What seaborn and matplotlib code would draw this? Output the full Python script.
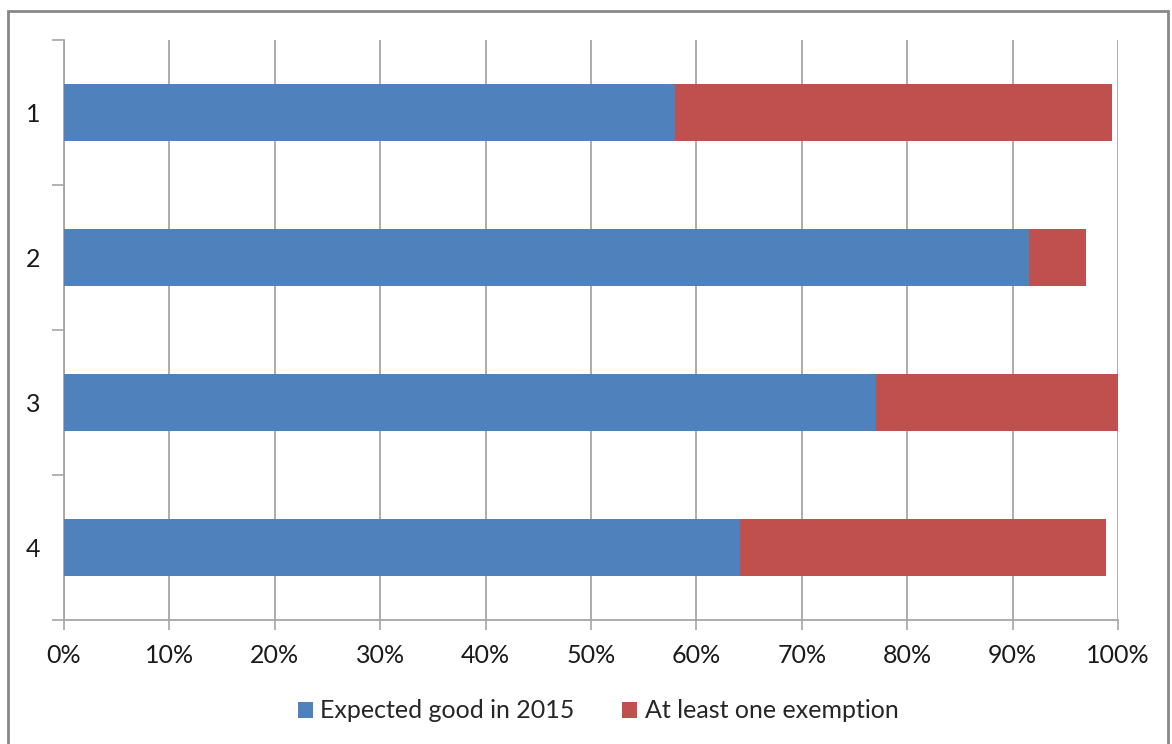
import seaborn as sns
import numpy as np
import pandas as pd
import matplotlib.pyplot as plt
from matplotlib.patches import Rectangle
from matplotlib.ticker import FixedLocator, PercentFormatter

categories = ["1", "2", "3", "4"]
expected_good = [58.0, 91.6, 77.0, 64.1]
exemption = [41.4, 5.4, 23.0, 34.8]

series_names = ["Expected good in 2015", "At least one exemption"]
blue = "#4F81BD"
red = "#C0504D"
grid_c = "#A6A6A6"

sns.set_style("white")
plt.rcParams['font.family'] = ['Lato', 'DejaVu Sans']

df = pd.DataFrame({"cat": categories, "good": expected_good, "exempt": exemption})
df["total"] = df["good"] + df["exempt"]

fig = plt.figure(figsize=(11.72, 7.44), dpi=100)
ax = fig.add_axes([64 / 1172, 1 - 620 / 744, (1118 - 64) / 1172, (620 - 40) / 744])

# stacked bars: total first, then blue on top
sns.barplot(data=df, x="total", y="cat", color=red, width=0.39, ax=ax,
            saturation=1, linewidth=0, zorder=3, label=series_names[1])
sns.barplot(data=df, x="good", y="cat", color=blue, width=0.39, ax=ax,
            saturation=1, linewidth=0, zorder=4, label=series_names[0])

ax.set_xlim(0, 100)
ax.set_ylim(3.5, -0.5)
ax.set_xticks(np.arange(0, 101, 10))
ax.xaxis.set_major_formatter(PercentFormatter(decimals=0))
ax.yaxis.set_major_locator(FixedLocator(np.arange(-0.5, 3.6, 1)))
ax.set_yticklabels([])
ax.yaxis.set_minor_locator(FixedLocator(range(len(categories))))
ax.set_yticklabels(categories, minor=True)
ax.tick_params(axis="y", which="major", length=9, width=1.2, color=grid_c, left=True)
ax.tick_params(axis="y", which="minor", length=0, pad=17, labelsize=18, labelcolor="#1a1a1a")
ax.tick_params(axis="x", length=7, width=1.2, color=grid_c, bottom=True, pad=10,
               labelsize=18, labelcolor="#1a1a1a")
ax.set_xlabel("")
ax.set_ylabel("")

ax.grid(axis="x", color=grid_c, linewidth=1.3, zorder=0)
ax.set_axisbelow(True)
for s in ["top", "right"]:
    ax.spines[s].set_visible(False)
for s in ["left", "bottom"]:
    ax.spines[s].set_color(grid_c)
    ax.spines[s].set_linewidth(1.3)

handles, labels = ax.get_legend_handles_labels()
order = [labels.index(n) for n in series_names]
leg = fig.legend([handles[i] for i in order], [labels[i] for i in order],
                 loc="center", bbox_to_anchor=(598 / 1172, 1 - 711 / 744), ncol=2,
                 frameon=False, fontsize=18, handlelength=0.6, handleheight=0.6,
                 handletextpad=0.3, columnspacing=1.9)
if ax.get_legend():
    ax.get_legend().remove()

fig.add_artist(Rectangle((8 / 1172, -0.02), (1168 - 8) / 1172, 1.02 - 11 / 744,
                         transform=fig.transFigure, fill=False,
                         edgecolor="#888888", linewidth=2))

fig.savefig("out.png", dpi=100)
